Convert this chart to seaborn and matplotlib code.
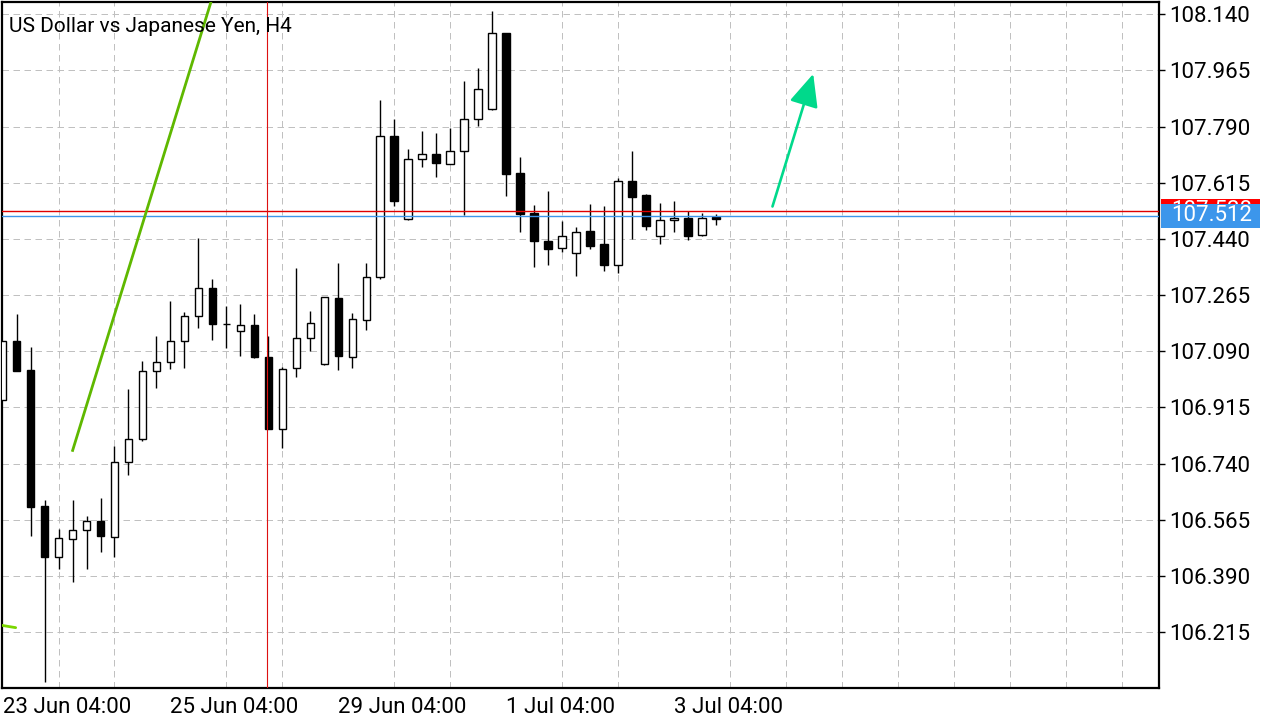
import numpy as np
import pandas as pd
import matplotlib
matplotlib.use('Agg')
import matplotlib.pyplot as plt
import seaborn as sns
from matplotlib.patches import Rectangle
from matplotlib.ticker import MultipleLocator
from matplotlib.transforms import blended_transform_factory

# USDJPY H4 candles, first bar = 23 Jun 04:00
opens = [106.938, 107.121, 107.032, 106.607, 106.450, 106.505, 106.533, 106.562, 106.510, 106.744,
         106.816, 107.028, 107.056, 107.121, 107.199, 107.286, 107.174, 107.152, 107.171, 107.072,
         106.849, 107.037, 107.131, 107.050, 107.255, 107.071, 107.187, 107.321, 107.760, 107.501,
         107.688, 107.704, 107.673, 107.713, 107.813, 107.844, 108.081, 107.645, 107.520, 107.433,
         107.411, 107.395, 107.464, 107.423, 107.358, 107.620, 107.576, 107.448, 107.498, 107.504,
         107.452, 107.509]
highs = [107.121, 107.206, 107.103, 106.627, 106.537, 106.627, 106.577, 106.633, 106.795, 106.973,
         107.060, 107.138, 107.247, 107.213, 107.443, 107.314, 107.230, 107.237, 107.205, 107.137,
         107.040, 107.349, 107.216, 107.260, 107.365, 107.209, 107.365, 107.873, 107.814, 107.719,
         107.776, 107.769, 107.785, 107.931, 107.972, 108.149, 108.082, 107.695, 107.545, 107.589,
         107.495, 107.476, 107.549, 107.542, 107.629, 107.713, 107.580, 107.551, 107.557, 107.526,
         107.520, 107.517]
lows = [106.938, 107.027, 106.513, 106.061, 106.412, 106.372, 106.412, 106.466, 106.450, 106.703,
        106.809, 106.977, 107.036, 107.039, 107.161, 107.126, 107.101, 107.076, 107.068, 106.849,
        106.790, 107.011, 107.092, 107.048, 107.033, 107.039, 107.157, 107.314, 107.544, 107.499,
        107.663, 107.632, 107.672, 107.513, 107.793, 107.843, 107.575, 107.463, 107.351, 107.360,
        107.400, 107.323, 107.407, 107.341, 107.335, 107.440, 107.469, 107.425, 107.463, 107.438,
        107.448, 107.483]
closes = [107.121, 107.030, 106.606, 106.450, 106.508, 106.533, 106.562, 106.513, 106.744, 106.816,
          107.029, 107.056, 107.121, 107.199, 107.286, 107.174, 107.174, 107.171, 107.071, 106.849,
          107.034, 107.131, 107.177, 107.258, 107.075, 107.190, 107.321, 107.760, 107.559, 107.688,
          107.704, 107.676, 107.713, 107.813, 107.906, 108.081, 107.643, 107.519, 107.432, 107.410,
          107.450, 107.461, 107.419, 107.360, 107.620, 107.572, 107.481, 107.498, 107.504, 107.450,
          107.504, 107.503]

bid = 107.512
ask = 107.528

x_tick_pos = [0, 12, 24, 36, 48]
x_tick_labels = ['23 Jun 04:00', '25 Jun 04:00', '29 Jun 04:00', '1 Jul 04:00', '3 Jul 04:00']
y_ticks = [108.140, 107.965, 107.790, 107.615, 107.440, 107.265,
           107.090, 106.915, 106.740, 106.565, 106.390, 106.215]

# drawn objects (bar index, price)
trend_x = [4.98, 16.0]
trend_y = [106.777, 108.335]
trend2_x = [-1.0, 0.94]
trend2_y = [106.243, 106.229]
arrow_x = [55.0, 57.91]
arrow_y = [107.541, 107.954]
separator_x = 18.91

sns.set_style('white')
plt.rcParams['font.family'] = ['Roboto', 'DejaVu Sans']

df = pd.DataFrame({'open': opens, 'high': highs, 'low': lows, 'close': closes})
df['bar'] = np.arange(len(df))
up = df['close'] >= df['open']

fig = plt.figure(figsize=(12.8, 7.2), dpi=100)
ax = fig.add_axes([2 / 1280, 32 / 720, 1157 / 1280, 686 / 720])

ymin, ymax = 106.041, 108.178
ax.set_xlim(-0.036, 82.61)
ax.set_ylim(ymin, ymax)

# grid
grid_kw = dict(color='#c0c0c0', linewidth=0.72, linestyle=(0, (6.5, 4.5)))
ax.xaxis.set_minor_locator(MultipleLocator(4))
ax.grid(False)
ax.grid(True, which='minor', axis='x', **grid_kw)
ax.grid(True, which='major', axis='y', **grid_kw)
ax.set_axisbelow(True)

# candles
ax.vlines(df['bar'], df['low'], df['high'], color='black', linewidth=1.0, zorder=2)
body_bottom = df[['open', 'close']].min(axis=1)
body_h = (df['close'] - df['open']).abs()
ax.bar(df['bar'], body_h, bottom=body_bottom, width=0.57,
       color=np.where(up, 'white', 'black'), edgecolor='black', linewidth=1.0, zorder=3)

# price lines
ax.axhline(ask, color='#e00000', linewidth=1.0, zorder=4)
ax.axhline(bid, color='#3c96eb', linewidth=1.0, zorder=4)
ax.axvline(separator_x, color='#dd1111', linewidth=0.8, zorder=4)

# trend lines and arrow
ax.plot(trend_x, trend_y, color='#5fb800', linewidth=2.0, zorder=5, solid_capstyle='butt')
ax.plot(trend2_x, trend2_y, color='#7ad600', linewidth=2.0, zorder=5)
ax.annotate('', xy=(arrow_x[1], arrow_y[1]), xytext=(arrow_x[0], arrow_y[0]),
            arrowprops=dict(arrowstyle='-|>,head_length=1.0,head_width=0.45', mutation_scale=20,
                            color='#00d98b', lw=1.9, shrinkA=0, shrinkB=0), zorder=6)

# axes styling
for s in ax.spines.values():
    s.set_visible(True)
    s.set_color('black')
    s.set_linewidth(1.6)

ax.yaxis.tick_right()
ax.set_yticks(y_ticks)
ax.set_yticklabels([f'{v:.3f}' for v in y_ticks])
ax.tick_params(axis='y', which='major', direction='out', length=4, width=1, pad=3,
               labelsize=16, colors='black')
ax.set_xticks(x_tick_pos)
ax.set_xticklabels(x_tick_labels, ha='left')
ax.tick_params(axis='x', which='major', direction='out', length=4, width=1.2, pad=2.5,
               labelsize=16, colors='black')
ax.tick_params(axis='x', which='minor', length=0)
for lbl in ax.get_xticklabels():
    lbl.set_horizontalalignment('left')

# price labels on the right: the bid box sits on top of the ask box
trans = blended_transform_factory(ax.transAxes, ax.transData)
price_per_px = (ymax - ymin) / 686
box_h = 23.7 * price_per_px
for k, (price, col) in enumerate([(ask, '#ff0000'), (bid, '#3c96eb')]):
    ax.add_patch(Rectangle((1.0017, price - box_h / 2), 0.0856, box_h, transform=trans,
                           clip_on=False, facecolor=col, edgecolor='none', zorder=7 + 2 * k))
    ax.text(1.0105, price, f'{price:.3f}', transform=trans, color='white', fontsize=16,
            va='center', ha='left', clip_on=False, zorder=8 + 2 * k)

fig.text(9 / 1280, 1 - 31.5 / 720, 'US Dollar vs Japanese Yen, H4', fontsize=15,
         va='baseline', ha='left', color='black')

fig.savefig('out.png', dpi=100)
